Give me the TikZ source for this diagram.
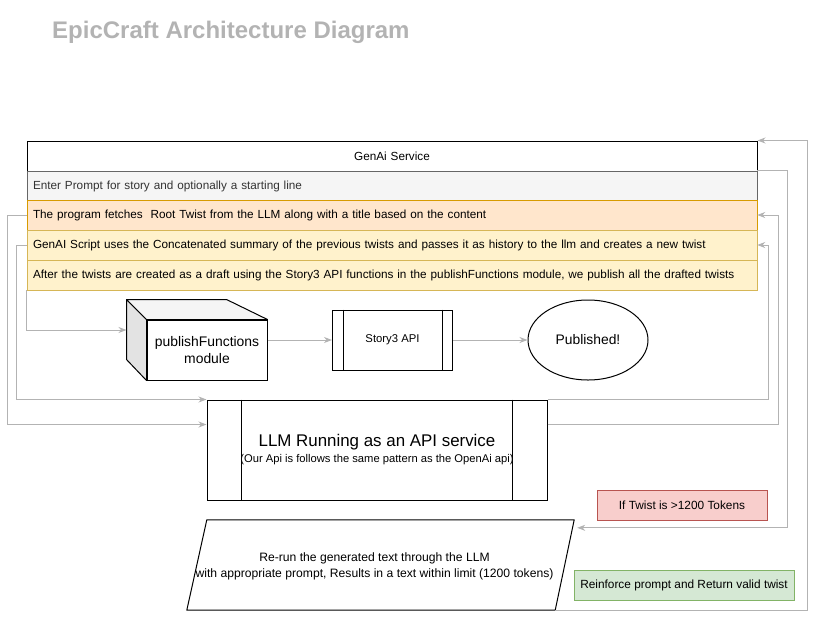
\documentclass[tikz,border=0pt]{standalone}
\usepackage{fontspec}
\setmainfont{Liberation Sans}
\usetikzlibrary{shapes.geometric,arrows.meta,positioning}

\definecolor{linkgray}{HTML}{B3B3B3}
\definecolor{titlegray}{HTML}{B3B3B3}
\definecolor{promptfill}{HTML}{F5F5F5}
\definecolor{promptline}{HTML}{666666}
\definecolor{promptText}{HTML}{333333}
\definecolor{rootfill}{HTML}{FFE6CC}
\definecolor{rootline}{HTML}{D79B00}
\definecolor{stepfill}{HTML}{FFF2CC}
\definecolor{stepline}{HTML}{D6B656}
\definecolor{warnfill}{HTML}{F8CECC}
\definecolor{warnline}{HTML}{B85450}
\definecolor{okfill}{HTML}{D5E8D4}
\definecolor{okline}{HTML}{82B366}

\begin{document}
\begin{tikzpicture}[
    x=1pt, y=-1pt,
    row/.style={
        rectangle, draw, minimum width=730pt, minimum height=30pt,
        inner xsep=6pt, text width=718pt, align=left,
        font=\fontsize{11.75}{14}\selectfont
    },
    process/.style={
        rectangle, draw=black, fill=white, line width=1pt,
        align=center
    },
    note/.style={
        rectangle, line width=1pt, minimum height=30pt,
        font=\fontsize{11.85}{14}\selectfont
    },
    flow/.style={-{Stealth[length=8pt,width=6pt,inset=2.5pt]}, draw=linkgray, line width=1pt}
]
\useasboundingbox (0,0) rectangle (816,619);

% Titolo
\node[anchor=base west, text=titlegray, font=\fontsize{24}{28}\selectfont\bfseries, inner sep=0pt] (title) at (52,38) {EpicCraft Architecture Diagram};

% GenAi Service
\node[row, draw=black, line width=1pt, align=center] (header) at (392,156) {GenAi Service};
\node[row, fill=promptfill, draw=promptline, text=promptText] (prompt) at (392,186) {Enter Prompt for story and optionally a starting line};
\node[row, fill=rootfill, draw=rootline] (root) at (392,215) {The program fetches\ \ Root Twist from the LLM along with a title based on the content};
\node[row, fill=stepfill, draw=stepline] (script) at (392,245) {GenAI Script uses the Concatenated summary of the previous twists and passes it as history to the llm and creates a new twist};
\node[row, fill=stepfill, draw=stepline] (after) at (392,275) {After the twists are created as a draft using the Story3 API functions in the publishFunctions module, we publish all the drafted twists};

% Modulo publishFunctions (cubo)
\node[process, minimum width=120pt, minimum height=60pt, font=\fontsize{13.9}{17}\selectfont] (pub) at (207,350) {publishFunctions\\module};
\filldraw[fill=gray!22, line width=1pt, line join=round] (pub.north west) -- ++(-20,-20) -- ++(0,60) -- (pub.south west) -- cycle;
\filldraw[fill=gray!8, line width=1pt, line join=round] (pub.north west) -- ++(-20,-20) -- ++(100,0) -- (pub.north east) -- cycle;

% Story3 API
\node[process, minimum width=120pt, minimum height=60pt, font=\fontsize{11.3}{13}\selectfont] (story) at (392.5,340) {Story3 API};
\draw[line width=1pt] ([xshift=11pt]story.north west) -- ([xshift=11pt]story.south west);
\draw[line width=1pt] ([xshift=-11pt]story.north east) -- ([xshift=-11pt]story.south east);

% Published
\node[ellipse, draw=black, line width=1pt, minimum width=120pt, minimum height=80pt, font=\fontsize{13.85}{16}\selectfont] (done) at (588,340) {Published!};

% LLM
\node[process, minimum width=340pt, minimum height=100pt] (llm) at (377,450)
    {{\fontsize{16.9}{20}\selectfont LLM Running as an API service}\\[4pt]
     {\fontsize{11.2}{13}\selectfont (Our Api is follows the same pattern as the OpenAi api)}};
\draw[line width=1pt] ([xshift=35pt]llm.north west) -- ([xshift=35pt]llm.south west);
\draw[line width=1pt] ([xshift=-35pt]llm.north east) -- ([xshift=-35pt]llm.south east);

% Re-run (parallelogramma)
\node[rectangle, minimum width=387pt, minimum height=90pt] (rerun) at (380.5,565) {};
\draw[line width=1pt, line join=round] (rerun.south west) -- ([xshift=20pt]rerun.north west) -- (rerun.north east) -- ([xshift=-19pt]rerun.south east) -- cycle;
\node[align=center, font=\fontsize{12.15}{16}\selectfont] (reruntext) at (374.5,566)
    {Re-run the generated text through the LLM\\with appropriate prompt, Results in a text within limit (1200 tokens)};

% Note
\node[note, fill=warnfill, draw=warnline, minimum width=170pt] (toolong) at (682,505) {If Twist is >1200 Tokens};
\node[note, fill=okfill, draw=okline, minimum width=220pt] (valid) at (684,585) {Reinforce prompt and Return valid twist};

% Connessioni
\draw[flow] (pub.east |- story.west) -- (story.west);
\draw[flow] (story.east) -- (done.west);
\draw[flow] (after.south west) |- ([xshift=-20pt,yshift=20pt]pub.west);
\draw[flow] (script.west) -- ++(-10,0) |- (llm.north west);
\draw[flow] (root.west) -- ++(-19,0) |- ([yshift=-25pt]llm.north west);
\draw[flow] (llm.north east) -- ++(221,0) |- (script.east);
\draw[flow] ([yshift=-25pt]llm.north east) -- ++(231,0) |- (root.east);
\draw[flow] (prompt.north east) -- ++(30,0) |- ([xshift=3pt,yshift=-8pt]rerun.north east);
\draw[flow] ([xshift=-19pt]rerun.south east) -- ++(252,0) |- (header.north east);

\end{tikzpicture}
\end{document}
